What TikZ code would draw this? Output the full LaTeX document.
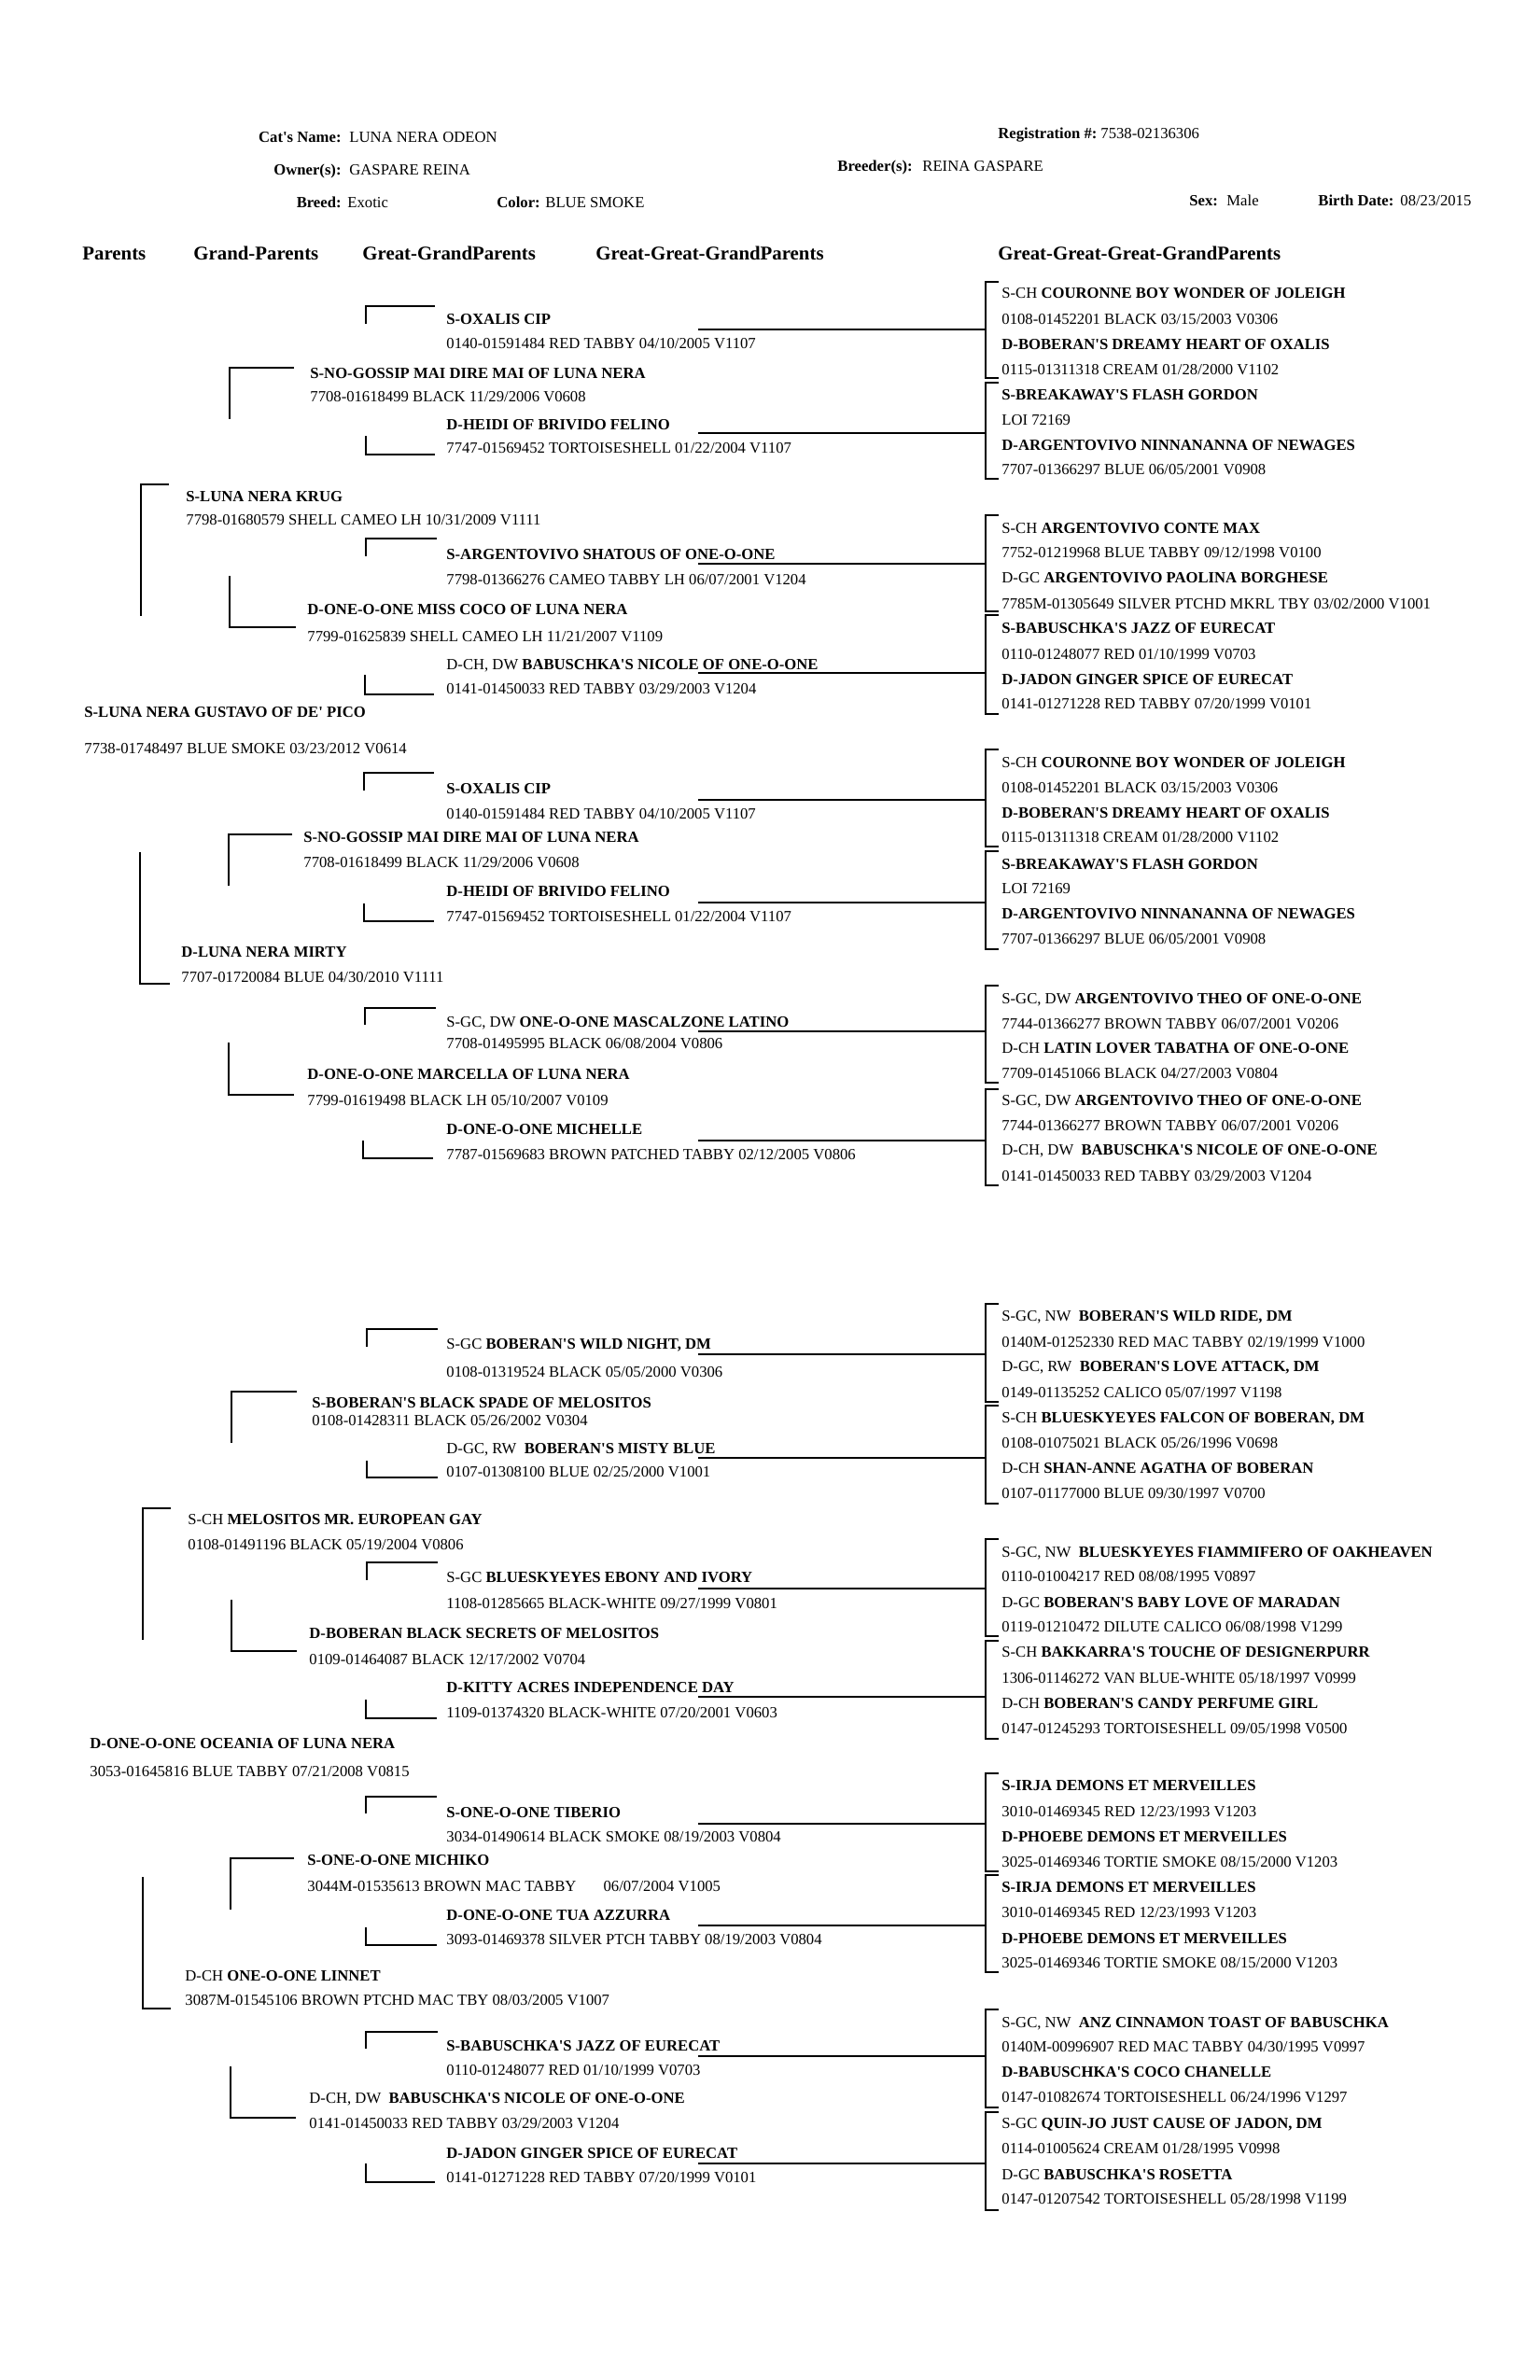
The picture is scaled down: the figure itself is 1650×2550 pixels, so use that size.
\documentclass[tikz,border=0pt]{standalone}
\usepackage{fontspec}
\setmainfont{Liberation Serif}
\newfontfamily\pedfont{Liberation Serif}
\newcounter{nd}
\newcommand{\PName}[3]{\stepcounter{nd}\node[nm] (t\arabic{nd}) at (#1,#2) {#3};}
\newcommand{\PReg}[3]{\stepcounter{nd}\node[rg] (t\arabic{nd}) at (#1,#2) {#3};}
\newcommand{\regpre}[1]{{\mdseries #1}}
\newcommand{\SBr}[4]{\draw[br] (#2,#3) -- (#1,#3) -- (#1,#4);}
\newcommand{\DBr}[4]{\draw[br] (#1,#3) -- (#1,#4) -- (#2,#4);}
\newcommand{\GBr}[3]{\draw[br] (1070,#1) -- (1056,#1) -- (1056,#2) -- (1070,#2);\draw[br] (748,#3) -- (1056,#3);}
\newcommand{\GGGG}[8]{\PName{1073}{#1}{#5}\PReg{1073}{#2}{#6}\PName{1073}{#3}{#7}\PReg{1073}{#4}{#8}}
\tikzset{
  nm/.style={anchor=base west, inner sep=0pt, font=\pedfont\fontsize{8}{9.6}\selectfont\bfseries},
  rg/.style={anchor=base west, inner sep=0pt, font=\pedfont\fontsize{8}{9.6}\selectfont},
  hd/.style={anchor=base west, inner sep=0pt, font=\pedfont\fontsize{10}{12}\selectfont\bfseries},
  lbl/.style={inner sep=0pt, font=\pedfont\fontsize{8}{9.6}\selectfont\bfseries},
  br/.style={line width=1.1pt, line join=miter, line cap=butt, black}
}
\begin{document}
\begin{tikzpicture}[x=0.48pt, y=-0.48pt]
\useasboundingbox (0,0) rectangle (1650,2550);
\fill[white] (0,0) rectangle (1650,2550);

% ---------------- header ----------------
\node[lbl, anchor=base east] (lcat) at (366,152) {Cat's Name:};
\node[rg] (vcat) at (374,152) {LUNA NERA ODEON};
\node[lbl, anchor=base east] (lown) at (366,187) {Owner(s):};
\node[rg] (vown) at (374,187) {GASPARE REINA};
\node[lbl, anchor=base east] (lbrd) at (366,222) {Breed:};
\node[rg] (vbrd) at (372,222) {Exotic};
\node[lbl, anchor=base west] (lcol) at (532,222) {Color:};
\node[rg] (vcol) at (584,222) {BLUE SMOKE};
\node[lbl, anchor=base west] (lreg) at (1069,148) {Registration \#:};
\node[rg] (vreg) at (1179,148) {7538-02136306};
\node[lbl, anchor=base west] (lbre) at (897,183) {Breeder(s):};
\node[rg] (vbre) at (988,183) {REINA GASPARE};
\node[lbl, anchor=base west] (lsex) at (1274,220) {Sex:};
\node[rg] (vsex) at (1314,220) {Male};
\node[lbl, anchor=base west] (lbd) at (1412,220) {Birth Date:};
\node[rg] (vbd) at (1500,220) {08/23/2015};

\node[hd] (h1) at (88,278) {Parents};
\node[hd] (h2) at (207,278) {Grand-Parents};
\node[hd] (h3) at (388,278) {Great-GrandParents};
\node[hd] (h4) at (638,278) {Great-Great-GrandParents};
\node[hd] (h5) at (1069,278) {Great-Great-Great-GrandParents};

% ================= QUARTER 1 =================
\PName{90}{768}{S-LUNA NERA GUSTAVO OF DE' PICO}
\PReg{90}{807}{7738-01748497 BLUE SMOKE 03/23/2012 V0614}

\SBr{151}{181}{519}{660}
\PName{199}{537}{S-LUNA NERA KRUG}
\PReg{199}{562}{7798-01680579 SHELL CAMEO LH 10/31/2009 V1111}

\SBr{246}{315}{394}{449}
\PName{332}{405}{S-NO-GOSSIP MAI DIRE MAI OF LUNA NERA}
\PReg{332}{430}{7708-01618499 BLACK 11/29/2006 V0608}
\DBr{246}{317}{617}{672}
\PName{329}{658}{D-ONE-O-ONE MISS COCO OF LUNA NERA}
\PReg{329}{687}{7799-01625839 SHELL CAMEO LH 11/21/2007 V1109}

\SBr{392}{466}{328}{347}
\PName{478}{347}{S-OXALIS CIP}
\PReg{478}{373}{0140-01591484 RED TABBY 04/10/2005 V1107}
\DBr{392}{466}{467}{487}
\PName{478}{460}{D-HEIDI OF BRIVIDO FELINO}
\PReg{478}{485}{7747-01569452 TORTOISESHELL 01/22/2004 V1107}
\SBr{392}{468}{577}{596}
\PName{478}{599}{S-ARGENTOVIVO SHATOUS OF ONE-O-ONE}
\PReg{478}{626}{7798-01366276 CAMEO TABBY LH 06/07/2001 V1204}
\DBr{391}{465}{723}{744}
\PName{478}{717}{\regpre{D-CH, DW} BABUSCHKA'S NICOLE OF ONE-O-ONE}
\PReg{478}{743}{0141-01450033 RED TABBY 03/29/2003 V1204}

\GBr{302}{405}{353}
\GGGG{319}{347}{374}{401}{\regpre{S-CH} COURONNE BOY WONDER OF JOLEIGH}{0108-01452201 BLACK 03/15/2003 V0306}{D-BOBERAN'S DREAMY HEART OF OXALIS}{0115-01311318 CREAM 01/28/2000 V1102}
\GBr{410}{513}{464}
\GGGG{428}{455}{482}{508}{S-BREAKAWAY'S FLASH GORDON}{LOI 72169}{D-ARGENTOVIVO NINNANANNA OF NEWAGES}{7707-01366297 BLUE 06/05/2001 V0908}
\GBr{552}{655}{604}
\GGGG{571}{597}{624}{652}{\regpre{S-CH} ARGENTOVIVO CONTE MAX}{7752-01219968 BLUE TABBY 09/12/1998 V0100}{\regpre{D-GC} ARGENTOVIVO PAOLINA BORGHESE}{7785M-01305649 SILVER PTCHD MKRL TBY 03/02/2000 V1001}
\GBr{659}{765}{721}
\GGGG{678}{706}{733}{759}{S-BABUSCHKA'S JAZZ OF EURECAT}{0110-01248077 RED 01/10/1999 V0703}{D-JADON GINGER SPICE OF EURECAT}{0141-01271228 RED TABBY 07/20/1999 V0101}

% ================= QUARTER 2 =================
\DBr{150}{182}{913}{1054}
\PName{194}{1025}{D-LUNA NERA MIRTY}
\PReg{194}{1052}{7707-01720084 BLUE 04/30/2010 V1111}

\SBr{245}{313}{894}{949}
\PName{325}{902}{S-NO-GOSSIP MAI DIRE MAI OF LUNA NERA}
\PReg{325}{929}{7708-01618499 BLACK 11/29/2006 V0608}
\DBr{245}{315}{1117}{1173}
\PName{329}{1156}{D-ONE-O-ONE MARCELLA OF LUNA NERA}
\PReg{329}{1184}{7799-01619498 BLACK LH 05/10/2007 V0109}

\SBr{390}{465}{828}{847}
\PName{478}{850}{S-OXALIS CIP}
\PReg{478}{877}{0140-01591484 RED TABBY 04/10/2005 V1107}
\DBr{390}{465}{968}{987}
\PName{478}{960}{D-HEIDI OF BRIVIDO FELINO}
\PReg{478}{987}{7747-01569452 TORTOISESHELL 01/22/2004 V1107}
\SBr{391}{467}{1080}{1098}
\PName{478}{1100}{\regpre{S-GC, DW} ONE-O-ONE MASCALZONE LATINO}
\PReg{478}{1123}{7708-01495995 BLACK 06/08/2004 V0806}
\DBr{389}{464}{1222}{1241}
\PName{478}{1215}{D-ONE-O-ONE MICHELLE}
\PReg{478}{1242}{7787-01569683 BROWN PATCHED TABBY 02/12/2005 V0806}

\GBr{803}{907}{857}
\GGGG{822}{849}{876}{902}{\regpre{S-CH} COURONNE BOY WONDER OF JOLEIGH}{0108-01452201 BLACK 03/15/2003 V0306}{D-BOBERAN'S DREAMY HEART OF OXALIS}{0115-01311318 CREAM 01/28/2000 V1102}
\GBr{912}{1017}{967}
\GGGG{931}{957}{984}{1011}{S-BREAKAWAY'S FLASH GORDON}{LOI 72169}{D-ARGENTOVIVO NINNANANNA OF NEWAGES}{7707-01366297 BLUE 06/05/2001 V0908}
\GBr{1056}{1160}{1105}
\GGGG{1075}{1102}{1128}{1155}{\regpre{S-GC, DW} ARGENTOVIVO THEO OF ONE-O-ONE}{7744-01366277 BROWN TABBY 06/07/2001 V0206}{\regpre{D-CH} LATIN LOVER TABATHA OF ONE-O-ONE}{7709-01451066 BLACK 04/27/2003 V0804}
\GBr{1167}{1270}{1222}
\GGGG{1184}{1211}{1237}{1265}{\regpre{S-GC, DW} ARGENTOVIVO THEO OF ONE-O-ONE}{7744-01366277 BROWN TABBY 06/07/2001 V0206}{\regpre{D-CH, DW}~ BABUSCHKA'S NICOLE OF ONE-O-ONE}{0141-01450033 RED TABBY 03/29/2003 V1204}

% ================= QUARTER 3 =================
\PName{96}{1873}{D-ONE-O-ONE OCEANIA OF LUNA NERA}
\PReg{96}{1903}{3053-01645816 BLUE TABBY 07/21/2008 V0815}

\SBr{153}{183}{1616}{1757}
\PName{201}{1633}{\regpre{S-CH} MELOSITOS MR. EUROPEAN GAY}
\PReg{201}{1660}{0108-01491196 BLACK 05/19/2004 V0806}

\SBr{248}{318}{1491}{1546}
\PName{334}{1508}{S-BOBERAN'S BLACK SPADE OF MELOSITOS}
\PReg{334}{1527}{0108-01428311 BLACK 05/26/2002 V0304}
\DBr{248}{318}{1714}{1769}
\PName{331}{1755}{D-BOBERAN BLACK SECRETS OF MELOSITOS}
\PReg{331}{1783}{0109-01464087 BLACK 12/17/2002 V0704}

\SBr{393}{469}{1424}{1443}
\PName{478}{1445}{\regpre{S-GC} BOBERAN'S WILD NIGHT, DM}
\PReg{478}{1475}{0108-01319524 BLACK 05/05/2000 V0306}
\DBr{393}{469}{1565}{1583}
\PName{478}{1557}{\regpre{D-GC, RW}~ BOBERAN'S MISTY BLUE}
\PReg{478}{1582}{0107-01308100 BLUE 02/25/2000 V1001}
\SBr{393}{469}{1674}{1693}
\PName{478}{1695}{\regpre{S-GC} BLUESKYEYES EBONY AND IVORY}
\PReg{478}{1723}{1108-01285665 BLACK-WHITE 09/27/1999 V0801}
\DBr{392}{468}{1821}{1841}
\PName{478}{1813}{D-KITTY ACRES INDEPENDENCE DAY}
\PReg{478}{1840}{1109-01374320 BLACK-WHITE 07/20/2001 V0603}

\GBr{1397}{1502}{1451}
\GGGG{1415}{1443}{1469}{1497}{\regpre{S-GC, NW}~ BOBERAN'S WILD RIDE, DM}{0140M-01252330 RED MAC TABBY 02/19/1999 V1000}{\regpre{D-GC, RW}~ BOBERAN'S LOVE ATTACK, DM}{0149-01135252 CALICO 05/07/1997 V1198}
\GBr{1506}{1611}{1562}
\GGGG{1524}{1551}{1578}{1605}{\regpre{S-CH} BLUESKYEYES FALCON OF BOBERAN, DM}{0108-01075021 BLACK 05/26/1996 V0698}{\regpre{D-CH} SHAN-ANNE AGATHA OF BOBERAN}{0107-01177000 BLUE 09/30/1997 V0700}
\GBr{1649}{1753}{1702}
\GGGG{1668}{1694}{1722}{1748}{\regpre{S-GC, NW}~ BLUESKYEYES FIAMMIFERO OF OAKHEAVEN}{0110-01004217 RED 08/08/1995 V0897}{\regpre{D-GC} BOBERAN'S BABY LOVE OF MARADAN}{0119-01210472 DILUTE CALICO 06/08/1998 V1299}
\GBr{1758}{1863}{1818}
\GGGG{1775}{1803}{1830}{1857}{\regpre{S-CH} BAKKARRA'S TOUCHE OF DESIGNERPURR}{1306-01146272 VAN BLUE-WHITE 05/18/1997 V0999}{\regpre{D-CH} BOBERAN'S CANDY PERFUME GIRL}{0147-01245293 TORTOISESHELL 09/05/1998 V0500}

% ================= QUARTER 4 =================
\DBr{153}{183}{2011}{2152}
\PName{198}{2122}{\regpre{D-CH} ONE-O-ONE LINNET}
\PReg{198}{2148}{3087M-01545106 BROWN PTCHD MAC TBY 08/03/2005 V1007}

\SBr{247}{315}{1991}{2046}
\PName{329}{1998}{S-ONE-O-ONE MICHIKO}
\PReg{329}{2026}{3044M-01535613 BROWN MAC TABBY\hspace{14pt}06/07/2004 V1005}
\DBr{247}{317}{2214}{2269}
\PName{331}{2253}{\regpre{D-CH, DW}~ BABUSCHKA'S NICOLE OF ONE-O-ONE}
\PReg{331}{2280}{0141-01450033 RED TABBY 03/29/2003 V1204}

\SBr{392}{468}{1925}{1943}
\PName{478}{1947}{S-ONE-O-ONE TIBERIO}
\PReg{478}{1973}{3034-01490614 BLACK SMOKE 08/19/2003 V0804}
\DBr{392}{468}{2065}{2084}
\PName{478}{2057}{D-ONE-O-ONE TUA AZZURRA}
\PReg{478}{2083}{3093-01469378 SILVER PTCH TABBY 08/19/2003 V0804}
\SBr{392}{469}{2177}{2195}
\PName{478}{2197}{S-BABUSCHKA'S JAZZ OF EURECAT}
\PReg{478}{2223}{0110-01248077 RED 01/10/1999 V0703}
\DBr{392}{466}{2318}{2338}
\PName{478}{2312}{D-JADON GINGER SPICE OF EURECAT}
\PReg{478}{2338}{0141-01271228 RED TABBY 07/20/1999 V0101}

\GBr{1900}{2005}{1954}
\GGGG{1918}{1946}{1973}{2000}{S-IRJA DEMONS ET MERVEILLES}{3010-01469345 RED 12/23/1993 V1203}{D-PHOEBE DEMONS ET MERVEILLES}{3025-01469346 TORTIE SMOKE 08/15/2000 V1203}
\GBr{2009}{2113}{2063}
\GGGG{2027}{2054}{2082}{2108}{S-IRJA DEMONS ET MERVEILLES}{3010-01469345 RED 12/23/1993 V1203}{D-PHOEBE DEMONS ET MERVEILLES}{3025-01469346 TORTIE SMOKE 08/15/2000 V1203}
\GBr{2153}{2258}{2203}
\GGGG{2172}{2198}{2225}{2252}{\regpre{S-GC, NW}~ ANZ CINNAMON TOAST OF BABUSCHKA}{0140M-00996907 RED MAC TABBY 04/30/1995 V0997}{D-BABUSCHKA'S COCO CHANELLE}{0147-01082674 TORTOISESHELL 06/24/1996 V1297}
\GBr{2263}{2368}{2318}
\GGGG{2280}{2307}{2335}{2361}{\regpre{S-GC} QUIN-JO JUST CAUSE OF JADON, DM}{0114-01005624 CREAM 01/28/1995 V0998}{\regpre{D-GC} BABUSCHKA'S ROSETTA}{0147-01207542 TORTOISESHELL 05/28/1998 V1199}
\end{tikzpicture}
\end{document}
